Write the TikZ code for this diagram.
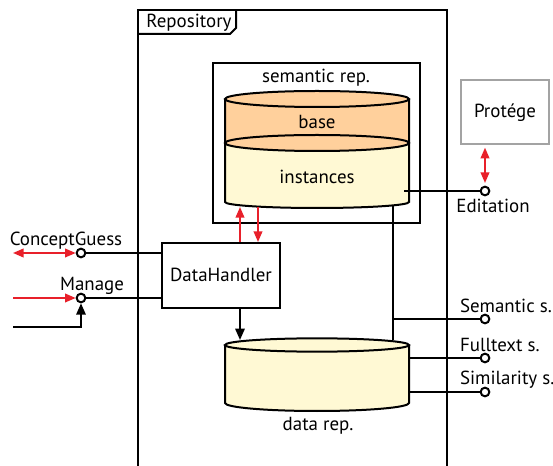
\documentclass[tikz,border=0pt]{standalone}
\usepackage{fontspec}
\setmainfont{PT Sans}
\usetikzlibrary{arrows.meta, positioning}
\definecolor{flowred}{HTML}{E8202A}
\definecolor{baseorange}{HTML}{FFD09C}
\definecolor{instyellow}{HTML}{FFF9D4}
\definecolor{toolgray}{HTML}{A3A3A3}

\begin{document}
\begin{tikzpicture}[x=0.75pt, y=-0.75pt, line width=1.5pt,
  font=\fontsize{14.2}{16}\selectfont,
  box/.style={draw, fill=white, line width=1.5pt, minimum width=88.5pt, minimum height=48.75pt},
  port/.style={circle, draw, fill=white, line width=1.5pt, inner sep=0pt, minimum size=6.5pt},
  redflow/.style={draw=flowred, line width=1.3pt, -{Triangle[length=8pt,width=6.5pt]}},
  redboth/.style={redflow, {Triangle[length=8pt,width=6.5pt]}-{Triangle[length=8pt,width=6.5pt]}},
  blackflow/.style={-{Triangle[length=8.5pt,width=7pt]}},
  link/.style={line width=0.8pt},
  txt/.style={anchor=base, inner sep=0pt},
]
  \useasboundingbox (0,0) rectangle (553,466);
  % repository frame with its tab
  \draw (138,466) -- (138,10) -- (447,10) -- (447,466);
  \draw (138,34) -- (230,34) -- (236,28) -- (236,10);
  \node[txt] at (189,28) {Repository};

  % semantic rep.
  \draw (213,63) rectangle (420,223);
  \node[txt] at (316,83) {semantic rep.};
  \fill[instyellow] (225,99) -- (225,202) arc[start angle=180, end angle=360, x radius=69pt, y radius=4.5pt]
    -- (409,99) -- cycle;
  \fill[baseorange] (225,143) arc[start angle=180, end angle=360, x radius=69pt, y radius=6pt]
    -- (409,99) arc[start angle=0, end angle=180, x radius=69pt, y radius=6pt] -- cycle;
  \draw (317,99) ellipse[x radius=69pt, y radius=6pt];
  \draw (317,143) ellipse[x radius=69pt, y radius=6pt];
  \draw (225,99) -- (225,202) arc[start angle=180, end angle=360, x radius=69pt, y radius=4.5pt] -- (409,99);
  \node[txt] at (317,129) {base};
  \node[txt] at (317,184) {instances};

  % data rep.
  \fill[instyellow] (225,345) -- (225,403) arc[start angle=180, end angle=360, x radius=69pt, y radius=6pt]
    -- (409,345) arc[start angle=0, end angle=180, x radius=69pt, y radius=5pt] -- cycle;
  \draw (317,345) ellipse[x radius=69pt, y radius=5pt];
  \draw (225,345) -- (225,403) arc[start angle=180, end angle=360, x radius=69pt, y radius=6pt] -- (409,345);
  \node[txt] at (318,430) {data rep.};

  % handler and outside tool
  \node[box] (handler) at (221,275.5) {};
  \node[txt] at (handler.center |- 0,282) {DataHandler};
  \node[box, draw=toolgray, minimum width=66pt, minimum height=48pt] (protege) at (505,112) {};
  \node[txt] at (protege.center |- 0,118) {Protége};

  \coordinate (semin) at (240,207);
  \coordinate (semout) at (258,207);
  \coordinate (datatop) at (240,340);
  \coordinate (semlink) at (393,206);
  \coordinate (datalink) at (393,340);
  \coordinate (instout) at (404,191);
  \coordinate (dataright) at (409,375);

  % ports
  \node[port] (guess) at (81,253) {};
  \node[port] (manage) at (81,298) {};
  \node[port] (edit) at (485,191) {};
  \node[port] (semsearch) at (485,319) {};
  \node[port] (fullsearch) at (485,358) {};
  \node[port] (simsearch) at (485,392) {};
  \coordinate (guessin) at (13,253);
  \coordinate (managein) at (13,298);
  \coordinate (managelow) at (13,327);

  \draw (guess) -- (handler.west |- guess);
  \draw (manage) -- (handler.west |- manage);
  \draw[redboth] (guessin) -- (guess.west);
  \draw[redflow] (managein) -- (manage.west);
  \draw[blackflow] (managelow) -| (manage.south);

  \draw[redflow] (handler.north -| semin) -- (semin);
  \draw[redflow] (semout) -- (handler.north -| semout);
  \draw[blackflow] (handler.south -| datatop) -- (datatop);
  \draw[link] (semlink) -- (datalink);

  \draw (instout) -- (edit.west);
  \draw[redboth, shorten <=2pt, shorten >=2pt] (protege.south -| edit) -- (edit.north);
  \draw (semsearch.west) -- (semsearch -| semlink);
  \draw (fullsearch.west) -- (fullsearch -| dataright);
  \draw (simsearch.west) -- (simsearch -| dataright);

  % labels
  \node[txt] at (66,246) {ConceptGuess};
  \node[txt] at (92,291) {Manage};
  \node[txt] at (493,213) {Editation};
  \node[txt, anchor=base west] at (459,313) {Semantic s.};
  \node[txt, anchor=base west] at (459,352) {Fulltext s.};
  \node[txt, anchor=base west] at (459,384) {Similarity s.};
\end{tikzpicture}
\end{document}
